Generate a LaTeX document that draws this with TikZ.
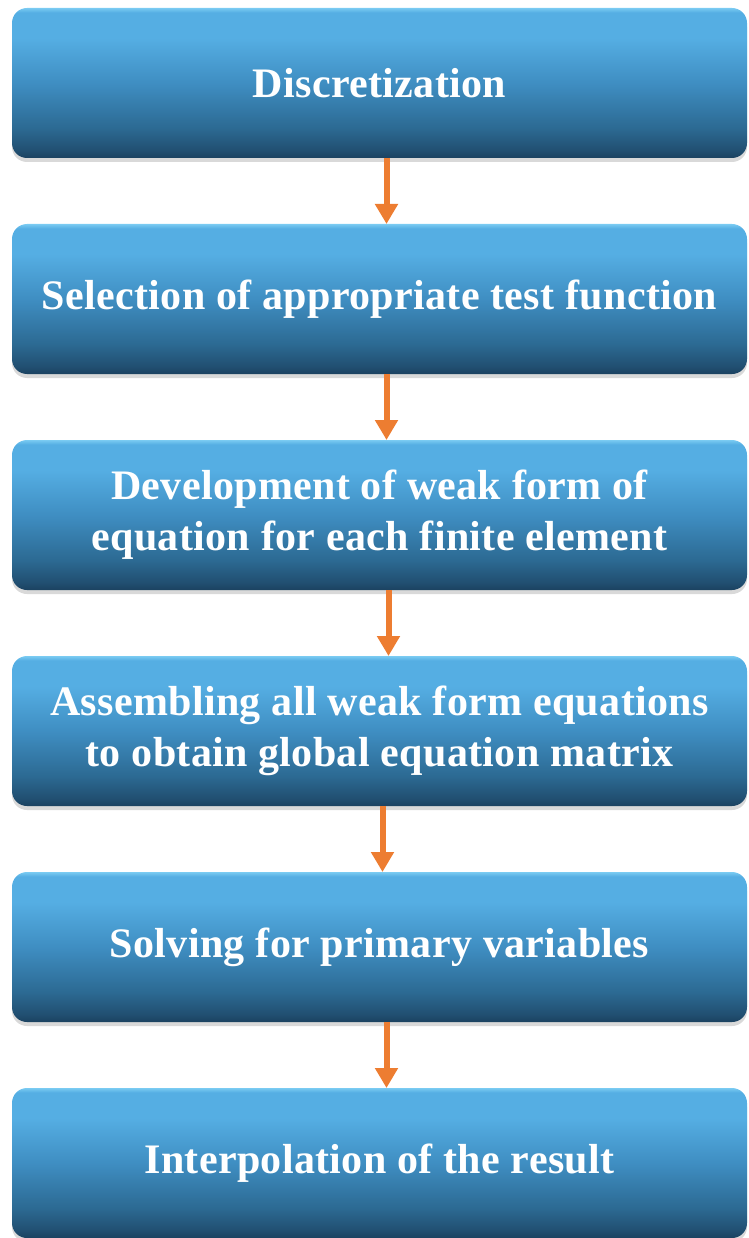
\documentclass[tikz,border=0pt]{standalone}
\usepackage{fontspec}
\setmainfont{Liberation Serif}
\usetikzlibrary{arrows.meta,positioning,shadows}

\definecolor{rimblue}{HTML}{7ACBF2}
\definecolor{topblue}{HTML}{55AEE3}
\definecolor{midblue}{HTML}{3F8EC2}
\definecolor{lowblue}{HTML}{2C6A93}
\definecolor{deepblue}{HTML}{214F71}
\definecolor{edgeblue}{HTML}{1B4260}
\definecolor{flowarrow}{HTML}{ED7D31}

% glossy fill: light top half, darker towards the bottom edge
\pgfdeclareverticalshading{glossblue}{100bp}{%
  color(0bp)=(edgeblue); color(25bp)=(edgeblue); color(27.5bp)=(deepblue);
  color(35bp)=(lowblue); color(50bp)=(midblue); color(65bp)=(topblue);
  color(73.5bp)=(topblue); color(75bp)=(rimblue); color(100bp)=(rimblue)}

\begin{document}
\begin{tikzpicture}[
  x=1pt, y=1pt,
  node distance=66pt,
  stepbox/.style={rectangle, rounded corners=15pt, shading=glossblue, draw=none,
    minimum width=735pt, minimum height=150pt, inner sep=0pt, outer sep=0pt,
    text=white, align=center,
    font=\bfseries\fontsize{42}{51}\selectfont\addfontfeature{LetterSpace=0.8},
    drop shadow={shadow xshift=0pt, shadow yshift=-4pt, opacity=.3}},
  arrow/.style={-{Triangle[width=22pt, length=20pt]}, line width=6pt, draw=flowarrow},
]
\useasboundingbox (0,0) rectangle (748,-1238);

%% --- Steps of the method ---
\node[stepbox] (disc) at (379.5,-83) {Discretization};
\node[stepbox, below=of disc]   (testfn) {Selection of appropriate test function};
\node[stepbox, below=of testfn] (weak)   {Development of weak form of\\equation for each finite element};
\node[stepbox, below=of weak]   (assem)  {Assembling all weak form equations\\to obtain global equation matrix};
\node[stepbox, below=of assem]  (solve)  {Solving for primary variables};
\node[stepbox, below=of solve]  (interp) {Interpolation of the result};

%% --- Flow between steps ---
\draw[arrow] ([xshift=7pt]disc.south)   -- ([xshift=7pt]testfn.north);
\draw[arrow] ([xshift=7pt]testfn.south) -- ([xshift=7pt]weak.north);
\draw[arrow] ([xshift=9pt]weak.south)   -- ([xshift=9pt]assem.north);
\draw[arrow] ([xshift=3pt]assem.south)  -- ([xshift=3pt]solve.north);
\draw[arrow] ([xshift=7pt]solve.south)  -- ([xshift=7pt]interp.north);

\end{tikzpicture}
\end{document}
